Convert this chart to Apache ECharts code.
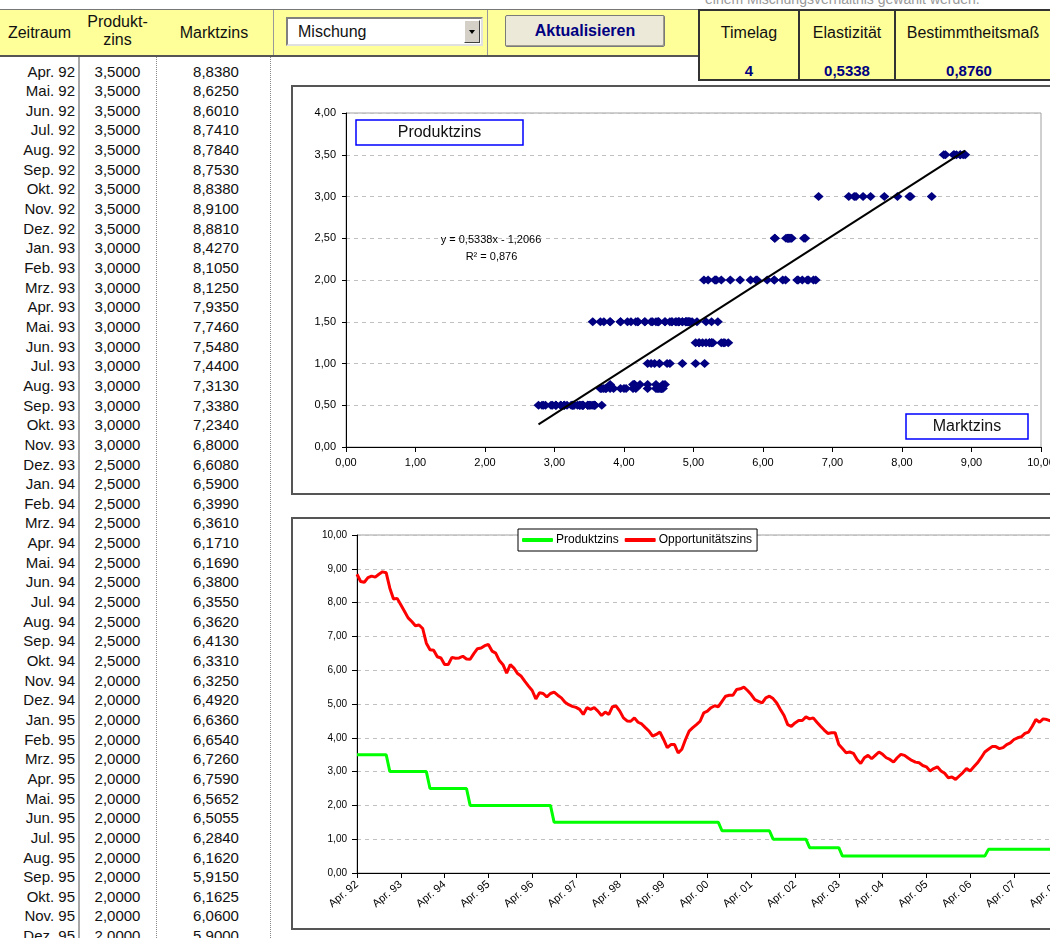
<!DOCTYPE html>
<html>
<head>
<meta charset="utf-8">
<script src="https://cdn.jsdelivr.net/npm/echarts/dist/echarts.min.js"></script>
<style>
  html, body { margin: 0; padding: 0; width: 1050px; height: 938px; overflow: hidden; background: #fff; }
  body { position: relative; font-family: 'Liberation Sans', Arial, sans-serif; color: #111; }
  .abs { position: absolute; }
  .kopf { position: absolute; font-size: 16px; text-align: center; line-height: 18px; color: #111; }
  .zelle { position: absolute; font-size: 15px; height: 20px; line-height: 20px; white-space: nowrap; }
  .wert { position: absolute; font-size: 15px; font-weight: bold; color: #000080; text-align: center; line-height: 20px; }
  .rahmen { position: absolute; box-sizing: border-box; border: 2px solid #555; background: #fff; }
  .rahmen > div { position: absolute; left: 0; top: 0; right: 0; bottom: 0; }
</style>
</head>
<body>
<div class="abs" style="left:705px;top:-9px;font-size:14px;color:#999;white-space:nowrap">einem Mischungsverhältnis gewählt werden.</div>

<!-- Kopfzeile -->
<div class="abs" style="left:0;top:9px;width:1050px;height:1px;background:#777"></div>
<div class="abs" style="left:0;top:10px;width:698px;height:45px;background:#ffff99;border-bottom:2px solid #555"></div>
<div class="abs" style="left:273px;top:10px;width:1px;height:45px;background:#999"></div>
<div class="abs" style="left:487px;top:10px;width:1px;height:45px;background:#999"></div>
<div class="kopf" style="left:0;top:24px;width:79px">Zeitraum</div>
<div class="kopf" style="left:79px;top:13px;width:77px">Produkt-<br>zins</div>
<div class="kopf" style="left:156px;top:24px;width:116px">Marktzins</div>

<div class="abs" style="left:286px;top:17px;width:197px;height:29px;box-sizing:border-box;background:#fff;border:2px solid;border-color:#808080 #e0e0e0 #e0e0e0 #808080">
  <div class="abs" style="left:10px;top:0;font-size:16px;line-height:25px">Mischung</div>
  <div class="abs" style="right:1px;top:1px;width:16px;height:23px;box-sizing:border-box;background:#d4d0c8;border:1px solid;border-color:#fff #404040 #404040 #fff">
    <div class="abs" style="left:4px;top:9px;width:0;height:0;border-left:3px solid transparent;border-right:3px solid transparent;border-top:4px solid #000"></div>
  </div>
</div>
<div class="abs" style="left:505px;top:15px;width:160px;height:32px;box-sizing:border-box;background:#ece9d8;border:1px solid #7a7a7a;border-radius:2px;box-shadow:inset -1px -1px 0 #a09c90;font-weight:bold;font-size:16px;color:#000080;text-align:center;line-height:30px">Aktualisieren</div>

<div class="abs" style="left:698px;top:9px;width:370px;height:72px;box-sizing:border-box;background:#ffff99;border:2px solid #333"></div>
<div class="abs" style="left:798px;top:9px;width:2px;height:72px;background:#333"></div>
<div class="abs" style="left:894px;top:9px;width:2px;height:72px;background:#333"></div>
<div class="kopf" style="left:700px;top:24px;width:98px">Timelag</div>
<div class="kopf" style="left:800px;top:24px;width:94px">Elastizität</div>
<div class="kopf" style="left:896px;top:24px;width:154px">Bestimmtheitsmaß</div>
<div id="kennzahlen"></div>

<!-- Tabelle -->
<div class="abs" style="left:78px;top:57px;width:2px;height:881px;background:#a8a8a8"></div>
<div class="abs" style="left:156px;top:57px;width:0;height:881px;border-left:1px dotted #888"></div>
<div class="abs" style="left:270px;top:57px;width:0;height:881px;border-left:1px dotted #888"></div>
<div id="tabelle"></div>

<!-- Diagramme -->
<div class="rahmen" style="left:291px;top:85px;width:790px;height:410px"><div id="streu"></div></div>
<div class="rahmen" style="left:291px;top:517px;width:790px;height:413px"><div id="verlauf"></div></div>

<script>
const monate = ['Jan.', 'Feb.', 'Mrz.', 'Apr.', 'Mai.', 'Jun.', 'Jul.', 'Aug.', 'Sep.', 'Okt.', 'Nov.', 'Dez.'];
const startJahr = 1992;
const startMonat = 3; // April

// Marktzins / Opportunitaetszins, monatlich ab Apr. 92
const marktzins = [].concat(
  [8.838, 8.625, 8.601, 8.741, 8.784, 8.753, 8.838, 8.910, 8.881],
  [8.427, 8.105, 8.125, 7.935, 7.746, 7.548, 7.440, 7.313, 7.338, 7.234, 6.800, 6.608],
  [6.590, 6.399, 6.361, 6.171, 6.169, 6.380, 6.355, 6.362, 6.413, 6.331, 6.325, 6.492],
  [6.636, 6.654, 6.726, 6.759, 6.5652, 6.5055, 6.284, 6.162, 5.915, 6.1625, 6.060, 5.900],
  [5.82, 5.67, 5.53, 5.40, 5.15, 5.33, 5.31, 5.21, 5.31, 5.35, 5.26, 5.18],
  [5.05, 4.98, 4.93, 4.90, 4.84, 4.69, 4.89, 4.84, 4.89, 4.79, 4.66, 4.76],
  [4.69, 4.92, 4.94, 4.79, 4.59, 4.50, 4.49, 4.59, 4.46, 4.41, 4.30, 4.20],
  [4.05, 4.10, 4.17, 3.95, 3.71, 3.80, 3.80, 3.55, 3.66, 3.95, 4.20, 4.30],
  [4.39, 4.49, 4.74, 4.79, 4.89, 4.95, 4.92, 5.08, 5.23, 5.26, 5.26, 5.43],
  [5.45, 5.50, 5.40, 5.28, 5.13, 5.08, 5.03, 5.18, 5.23, 5.16, 5.03, 4.84],
  [4.66, 4.39, 4.34, 4.44, 4.51, 4.51, 4.62, 4.56, 4.59, 4.46, 4.34, 4.23],
  [4.13, 4.15, 4.15, 3.80, 3.68, 3.56, 3.58, 3.54, 3.36, 3.24, 3.41, 3.48],
  [3.38, 3.48, 3.58, 3.51, 3.41, 3.36, 3.28, 3.41, 3.51, 3.48, 3.40, 3.33],
  [3.28, 3.26, 3.18, 3.14, 3.02, 3.09, 3.14, 3.02, 2.95, 2.82, 2.84, 2.77],
  [2.87, 2.97, 3.09, 3.02, 3.14, 3.26, 3.41, 3.58, 3.66, 3.74, 3.74, 3.68],
  [3.71, 3.80, 3.85, 3.95, 4.00, 4.03, 4.13, 4.17, 4.34, 4.54, 4.46, 4.56],
  [4.54, 4.50, 4.48, 4.52]
);

// Produktzins, monatlich ab Apr. 92
const produktzins = [].concat(
  [3.5, 3.5, 3.5, 3.5, 3.5, 3.5, 3.5, 3.5, 3.5],
  [3.0, 3.0, 3.0, 3.0, 3.0, 3.0, 3.0, 3.0, 3.0, 3.0, 3.0, 2.5],
  [2.5, 2.5, 2.5, 2.5, 2.5, 2.5, 2.5, 2.5, 2.5, 2.5, 2.0, 2.0],
  [2.0, 2.0, 2.0, 2.0, 2.0, 2.0, 2.0, 2.0, 2.0, 2.0, 2.0, 2.0],
  [2.0, 2.0, 2.0, 2.0, 2.0, 2.0, 2.0, 2.0, 2.0, 1.5, 1.5, 1.5],
  [1.5, 1.5, 1.5, 1.5, 1.5, 1.5, 1.5, 1.5, 1.5, 1.5, 1.5, 1.5],
  [1.5, 1.5, 1.5, 1.5, 1.5, 1.5, 1.5, 1.5, 1.5, 1.5, 1.5, 1.5],
  [1.5, 1.5, 1.5, 1.5, 1.5, 1.5, 1.5, 1.5, 1.5, 1.5, 1.5, 1.5],
  [1.5, 1.5, 1.5, 1.5, 1.5, 1.5, 1.5, 1.25, 1.25, 1.25, 1.25, 1.25],
  [1.25, 1.25, 1.25, 1.25, 1.25, 1.25, 1.25, 1.25, 1.25, 1.0, 1.0, 1.0],
  [1.0, 1.0, 1.0, 1.0, 1.0, 1.0, 1.0, 0.75, 0.75, 0.75, 0.75, 0.75],
  [0.75, 0.75, 0.75, 0.75, 0.5, 0.5, 0.5, 0.5, 0.5, 0.5, 0.5, 0.5],
  [0.5, 0.5, 0.5, 0.5, 0.5, 0.5, 0.5, 0.5, 0.5, 0.5, 0.5, 0.5],
  [0.5, 0.5, 0.5, 0.5, 0.5, 0.5, 0.5, 0.5, 0.5, 0.5, 0.5, 0.5],
  [0.5, 0.5, 0.5, 0.5, 0.5, 0.5, 0.5, 0.5, 0.7, 0.7, 0.7, 0.7],
  [0.7, 0.7, 0.7, 0.7, 0.7, 0.7, 0.7, 0.7, 0.7, 0.7, 0.7, 0.7],
  [0.7, 0.7, 0.7, 0.7]
);

const timelag = 4;
const elastizitaet = 0.5338;
const achsenabschnitt = -1.2066;
const bestimmtheit = 0.876;

const zeitraum = marktzins.map((_, i) => {
  const k = startMonat + i;
  return monate[k % 12] + ' ' + String((startJahr + Math.floor(k / 12)) % 100).padStart(2, '0');
});

const fmt = (v, d) => v.toFixed(d).replace('.', ',');
const schrift = "'Liberation Sans', Arial, sans-serif";

// Kennzahlen
document.getElementById('kennzahlen').innerHTML =
  '<div class="wert" style="left:700px;top:61px;width:98px">' + timelag + '</div>' +
  '<div class="wert" style="left:800px;top:61px;width:94px">' + fmt(elastizitaet, 4) + '</div>' +
  '<div class="wert" style="left:896px;top:61px;width:146px">' + fmt(bestimmtheit, 4) + '</div>';

// Tabelle
let html = '';
for (let i = 0; i < 45; i++) {
  const y = 71.5 + i * 19.65 - 10;
  html += '<div class="zelle" style="left:0;top:' + y + 'px;width:75px;text-align:right">' + zeitraum[i] + '</div>';
  html += '<div class="zelle" style="left:79px;top:' + y + 'px;width:77px;text-align:center">' + fmt(produktzins[i], 4) + '</div>';
  html += '<div class="zelle" style="left:158px;top:' + y + 'px;width:116px;text-align:center">' + fmt(marktzins[i], 4) + '</div>';
}
document.getElementById('tabelle').innerHTML = html;

// Streudiagramm
const punkte = marktzins.map((m, i) => [m, produktzins[i]]);
const xMin = Math.min(...marktzins);
const xMax = Math.max(...marktzins);
const trend = [
  [xMin, elastizitaet * xMin + achsenabschnitt],
  [xMax, elastizitaet * xMax + achsenabschnitt]
];

const streu = echarts.init(document.getElementById('streu'));
streu.setOption({
  animation: false,
  textStyle: { fontFamily: schrift },
  grid: { left: 53, top: 26, width: 695, height: 334, show: true, borderColor: '#a0a0a0', borderWidth: 1 },
  xAxis: {
    type: 'value', min: 0, max: 10, interval: 1,
    axisLine: { show: true, lineStyle: { color: '#000' } },
    axisTick: { show: true, length: 5, lineStyle: { color: '#000' } },
    axisLabel: { formatter: v => fmt(v, 2), fontSize: 11, color: '#000', margin: 10 },
    splitLine: { show: false }
  },
  yAxis: {
    type: 'value', min: 0, max: 4, interval: 0.5,
    axisLine: { show: true, lineStyle: { color: '#000' } },
    axisTick: { show: true, length: 4, lineStyle: { color: '#000' } },
    axisLabel: { formatter: v => fmt(v, 2), fontSize: 11, color: '#000', margin: 10 },
    splitLine: { show: true, lineStyle: { color: '#c0c0c0', type: [4, 4] } }
  },
  series: [
    {
      type: 'scatter', data: punkte, symbol: 'diamond', symbolSize: [10, 9],
      itemStyle: { color: '#000080', opacity: 1 }
    },
    {
      type: 'line', data: trend, symbol: 'none', silent: true,
      lineStyle: { color: '#000', width: 2 }
    }
  ],
  graphic: [
    { type: 'rect', z: 100, shape: { x: 63, y: 33, width: 167, height: 25 }, style: { fill: '#fff', stroke: '#0000ff', lineWidth: 1.5 } },
    { type: 'text', z: 101, x: 146.5, y: 45.5, style: { text: 'Produktzins', fontSize: 16, fontFamily: schrift, fill: '#111', align: 'center', verticalAlign: 'middle' } },
    { type: 'rect', z: 100, shape: { x: 613, y: 327, width: 122, height: 25 }, style: { fill: '#fff', stroke: '#0000ff', lineWidth: 1.5 } },
    { type: 'text', z: 101, x: 674, y: 339.5, style: { text: 'Marktzins', fontSize: 16, fontFamily: schrift, fill: '#111', align: 'center', verticalAlign: 'middle' } },
    { type: 'text', z: 101, x: 198, y: 152.5, style: { text: 'y = ' + fmt(elastizitaet, 4) + 'x - ' + fmt(-achsenabschnitt, 4), fontSize: 11, fontFamily: schrift, fill: '#000', align: 'center', verticalAlign: 'middle' } },
    { type: 'text', z: 101, x: 198.5, y: 170, style: { text: 'R² = ' + String(bestimmtheit).replace('.', ','), fontSize: 11, fontFamily: schrift, fill: '#000', align: 'center', verticalAlign: 'middle' } }
  ]
});

// Zeitverlauf
const verlauf = echarts.init(document.getElementById('verlauf'));
verlauf.setOption({
  animation: false,
  textStyle: { fontFamily: schrift },
  legend: {
    left: 225, top: 10, padding: [5, 5, 5, 4], itemGap: 6, itemWidth: 31, itemHeight: 4, icon: 'roundRect',
    borderColor: '#000', borderWidth: 1, backgroundColor: '#fff',
    textStyle: { fontSize: 12, color: '#000', padding: [0, 0, 0, -2] },
    data: ['Produktzins', 'Opportunitätszins']
  },
  grid: { left: 64, top: 16, width: 700.8, height: 338, show: true, borderColor: '#a0a0a0', borderWidth: 1 },
  xAxis: {
    type: 'category', data: zeitraum, boundaryGap: false,
    axisLine: { lineStyle: { color: '#000' } },
    axisTick: { interval: 11, length: 5, lineStyle: { color: '#000' } },
    axisLabel: { interval: 11, rotate: 40, fontSize: 11, color: '#000', margin: 10 },
    splitLine: { show: false }
  },
  yAxis: {
    type: 'value', min: 0, max: 10, interval: 1,
    axisLine: { show: true, lineStyle: { color: '#000' } },
    axisTick: { show: true, length: 5, lineStyle: { color: '#000' } },
    axisLabel: { formatter: v => fmt(v, 2), fontSize: 10, color: '#000', margin: 10 },
    splitLine: { show: true, lineStyle: { color: '#c0c0c0', type: [4, 4] } }
  },
  series: [
    {
      name: 'Produktzins', type: 'line', data: produktzins, symbol: 'none',
      lineStyle: { color: '#00ff00', width: 3 }, itemStyle: { color: '#00ff00' }
    },
    {
      name: 'Opportunitätszins', type: 'line', data: marktzins, symbol: 'none',
      lineStyle: { color: '#ff0000', width: 3 }, itemStyle: { color: '#ff0000' }
    }
  ]
});
</script>
</body>
</html>
